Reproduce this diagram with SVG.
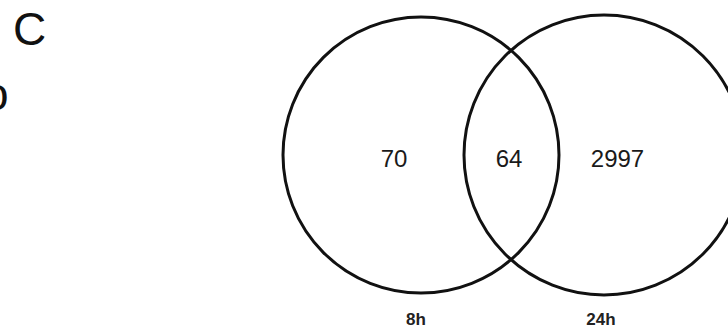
<svg xmlns="http://www.w3.org/2000/svg" width="728" height="329" viewBox="0 0 728 329">
<style>
.c{fill:none;stroke:#111;stroke-width:3}
.n{font-family:"Liberation Sans",Arial,sans-serif;font-size:24px;fill:#1a1a1a;text-anchor:middle}
.l{font-family:"Liberation Sans",Arial,sans-serif;font-size:17px;font-weight:bold;fill:#222;text-anchor:middle}
.p{font-family:"Liberation Sans",Arial,sans-serif;font-size:46px;fill:#111}
</style>
<rect width="728" height="329" fill="#fff"/>
<text class="p" x="13" y="45">C</text>
<text class="p" x="-17" y="110">o</text>
<g id="set-8h">
<circle class="c" cx="421" cy="155" r="138"/>
<text class="n" x="394" y="167">70</text>
<text class="l" x="416" y="325">8h</text>
</g>
<g id="set-24h">
<circle class="c" cx="604" cy="155" r="140"/>
<text class="n" x="617.5" y="167">2997</text>
<text class="l" x="601" y="325">24h</text>
</g>
<g id="overlap">
<text class="n" x="509" y="167">64</text>
</g>
</svg>
